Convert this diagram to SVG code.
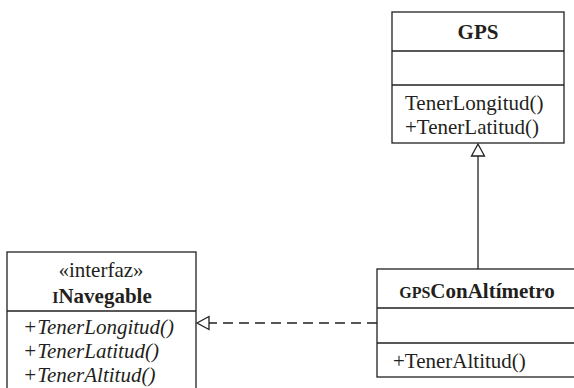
<svg xmlns="http://www.w3.org/2000/svg" width="574" height="388" viewBox="0 0 574 388">
<style>
.box{fill:#fff;stroke:#231f20;stroke-width:1.3}
.ln{stroke:#231f20;stroke-width:1.3;fill:none}
.hd{fill:#fff;stroke:#231f20;stroke-width:1.3}
text{font-family:'Liberation Serif','Times New Roman',serif;font-size:21px;fill:#231f20}
.b{font-weight:bold}
.c{text-anchor:middle}
.i{font-style:italic}
</style>
<g id="connectors">
<line class="ln" x1="478" y1="269" x2="478" y2="156"/>
<polygon class="hd" points="478,144 471.5,156 484.5,156"/>
<line class="ln" x1="377" y1="323" x2="209" y2="323" stroke-dasharray="10,6"/>
<polygon class="hd" points="197,323 209,316.5 209,329.5"/>
</g>
<g id="GPS">
<rect class="box" x="392" y="12" width="172" height="131"/>
<line class="ln" x1="392" y1="51" x2="564" y2="51"/>
<line class="ln" x1="392" y1="85" x2="564" y2="85"/>
<text class="b c" x="478" y="39">GPS</text>
<text x="405" y="110">TenerLongitud()</text>
<text x="405" y="134">+TenerLatitud()</text>
</g>
<g id="GPSConAltimetro">
<rect class="box" x="377" y="269" width="205" height="108"/>
<line class="ln" x1="377" y1="308" x2="582" y2="308"/>
<line class="ln" x1="377" y1="343" x2="582" y2="343"/>
<text class="b c" x="477" y="298"><tspan font-size="16">GPS</tspan>ConAltímetro</text>
<text x="393" y="368">+TenerAltitud()</text>
</g>
<g id="INavegable">
<rect class="box" x="7" y="252" width="189" height="145"/>
<line class="ln" x1="7" y1="311" x2="196" y2="311"/>
<text class="c" x="101" y="277" font-size="20">«interfaz»</text>
<text class="b c" x="102" y="303"><tspan font-size="16">I</tspan>Navegable</text>
<text class="i" x="23" y="334">+TenerLongitud()</text>
<text class="i" x="23" y="358">+TenerLatitud()</text>
<text class="i" x="23" y="382">+TenerAltitud()</text>
</g>
</svg>
